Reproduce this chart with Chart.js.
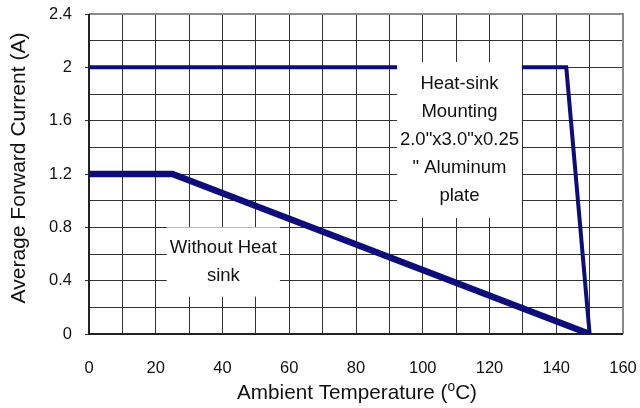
<!DOCTYPE html>
<html>
<head>
<meta charset="utf-8">
<script src="https://cdn.jsdelivr.net/npm/chart.js@4"></script>
<style>
  html, body { margin: 0; padding: 0; background: #fff; }
  #wrap { width: 640px; height: 408px; }
</style>
</head>
<body>
<div id="wrap"><canvas id="derating"></canvas></div>
<script>
const ctx = document.getElementById('derating');

// curve data (temperature in °C, current in A)
const heatSinkTemp = [0, 143, 150];
const heatSinkCurrent = [2, 2, 0];
const noSinkTemp = [0, 25, 150];
const noSinkCurrent = [1.2, 1.2, 0];

const xTicks = [0, 20, 40, 60, 80, 100, 120, 140, 160];
const yTicks = [0, 0.4, 0.8, 1.2, 1.6, 2, 2.4];

const heatSinkLabel = ['Heat-sink', 'Mounting', '2.0"x3.0"x0.25', '" Aluminum', 'plate'];
const noSinkLabel = ['Without Heat', 'sink'];

const toPoints = (xs, ys) => xs.map((x, i) => ({ x: x, y: ys[i] }));
const isMajorY = (v) => yTicks.some(t => Math.abs(t - v) < 1e-6);

const FONT = '"Liberation Sans", Arial, sans-serif';
const INK = '#111';

// draw a string made of parts [text, size, rise], squeezed to a given length
function drawParts(c, parts, len) {
    let w = 0;
    parts.forEach(p => { c.font = p[1] + 'px ' + FONT; p.w = c.measureText(p[0]).width; w += p.w; });
    const k = len / w;
    c.scale(k, 1);
    let x = -w / 2;
    parts.forEach(p => {
        c.font = p[1] + 'px ' + FONT;
        c.fillText(p[0], x, -(p[2] || 0));
        x += p.w;
    });
}

// white label boxes on top of the grid, placed in data units
const labelBoxes = {
    id: 'labelBoxes',
    afterDatasetsDraw(chart) {
        const c = chart.ctx;
        const xs = chart.scales.x, ys = chart.scales.y;
        const boxes = [
            { x0: 92.3, x1: 129.7, y0: 2.04, y1: 0.87, lines: heatSinkLabel },
            { x0: 23.3, x1: 57.2, y0: 0.80, y1: 0.28, lines: noSinkLabel },
        ];
        c.save();
        boxes.forEach(b => {
            const l = xs.getPixelForValue(b.x0), r = xs.getPixelForValue(b.x1);
            const t = ys.getPixelForValue(b.y0), bt = ys.getPixelForValue(b.y1);
            c.fillStyle = '#fff';
            c.fillRect(l, t, r - l, bt - t);
            c.fillStyle = INK;
            c.font = '18.5px ' + FONT;
            c.textAlign = 'center';
            c.textBaseline = 'middle';
            const lh = 28.2;
            const cy = (t + bt) / 2;
            b.lines.forEach((s, i) => {
                c.fillText(s, (l + r) / 2, cy + (i - (b.lines.length - 1) / 2) * lh);
            });
        });
        c.restore();
    },
    afterDraw(chart) {
        const c = chart.ctx;
        const a = chart.chartArea;
        c.fillStyle = INK;
        c.textAlign = 'left';
        c.textBaseline = 'alphabetic';
        // x-axis title with superscript o
        c.save();
        c.translate((a.left + a.right) / 2 + 1, 399);
        drawParts(c, [['Ambient Temperature (', 21], ['o', 14, 8], ['C)', 21]], 240);
        c.restore();
        // y-axis title
        c.save();
        c.translate(25, 168);
        c.rotate(-Math.PI / 2);
        drawParts(c, [['Average Forward Current (A)', 19.5]], 271);
        c.restore();
    }
};

// grey frame on top/right, dark on left/bottom
const frame = {
    id: 'frame',
    beforeDatasetsDraw(chart) {
        const c = chart.ctx, a = chart.chartArea;
        c.save();
        c.lineWidth = 2;
        c.strokeStyle = '#8a8a8a';
        c.beginPath();
        c.moveTo(a.left, a.top); c.lineTo(a.right, a.top); c.lineTo(a.right, a.bottom);
        c.stroke();
        c.strokeStyle = '#222';
        c.beginPath();
        c.moveTo(a.left, a.top); c.lineTo(a.left, a.bottom); c.lineTo(a.right, a.bottom);
        c.stroke();
        c.restore();
    }
};

const chart = new Chart(ctx, {
    type: 'scatter',
    data: {
        datasets: [
            {
                label: 'Heat-sink mounting',
                data: toPoints(heatSinkTemp, heatSinkCurrent),
                showLine: true,
                borderColor: '#0c0c7a',
                borderWidth: 4,
                pointRadius: 0,
                borderJoinStyle: 'miter',
            },
            {
                label: 'Without heat sink',
                data: toPoints(noSinkTemp, noSinkCurrent),
                showLine: true,
                borderColor: '#0c0c7a',
                borderWidth: 6.5,
                pointRadius: 0,
                borderJoinStyle: 'miter',
            },
        ]
    },
    options: {
        responsive: true,
        maintainAspectRatio: false,
        animation: false,
        events: [],
        layout: { padding: { top: 14, right: 17, left: 0, bottom: 0 } },
        plugins: {
            legend: { display: false },
            tooltip: { enabled: false },
        },
        scales: {
            x: {
                type: 'linear',
                min: 0,
                max: 160,
                afterFit: (s) => { s.height = 74; s.paddingLeft = 0; s.paddingRight = 0; },
                afterBuildTicks: (s) => {
                    const t = [];
                    for (let v = 0; v <= 160; v += 10) t.push({ value: v });
                    s.ticks = t;
                },
                ticks: {
                    color: INK,
                    font: { family: FONT, size: 16.5 },
                    padding: 25,
                    maxRotation: 0,
                    autoSkip: false,
                    callback: (v) => xTicks.includes(v) ? String(v) : '',
                },
                grid: { color: '#333', lineWidth: 1, drawTicks: false },
                border: { display: false },
            },
            y: {
                type: 'linear',
                min: 0,
                max: 2.4,
                afterFit: (s) => { s.width = 89; s.paddingTop = 0; s.paddingBottom = 0; },
                afterBuildTicks: (s) => {
                    const t = [];
                    for (let i = 0; i <= 12; i++) t.push({ value: Math.round(i * 2) / 10 });
                    s.ticks = t;
                },
                ticks: {
                    color: INK,
                    font: { family: FONT, size: 16.5 },
                    padding: 13,
                    autoSkip: false,
                    callback: (v) => isMajorY(v) ? String(Math.round(v * 10) / 10) : '',
                },
                grid: {
                    color: '#333',
                    lineWidth: 1,
                    tickLength: 4,
                    tickColor: (c) => c.tick && isMajorY(c.tick.value) ? '#333' : 'rgba(0,0,0,0)',
                },
                border: { display: false },
            }
        }
    },
    plugins: [frame, labelBoxes],
});
</script>
</body>
</html>
